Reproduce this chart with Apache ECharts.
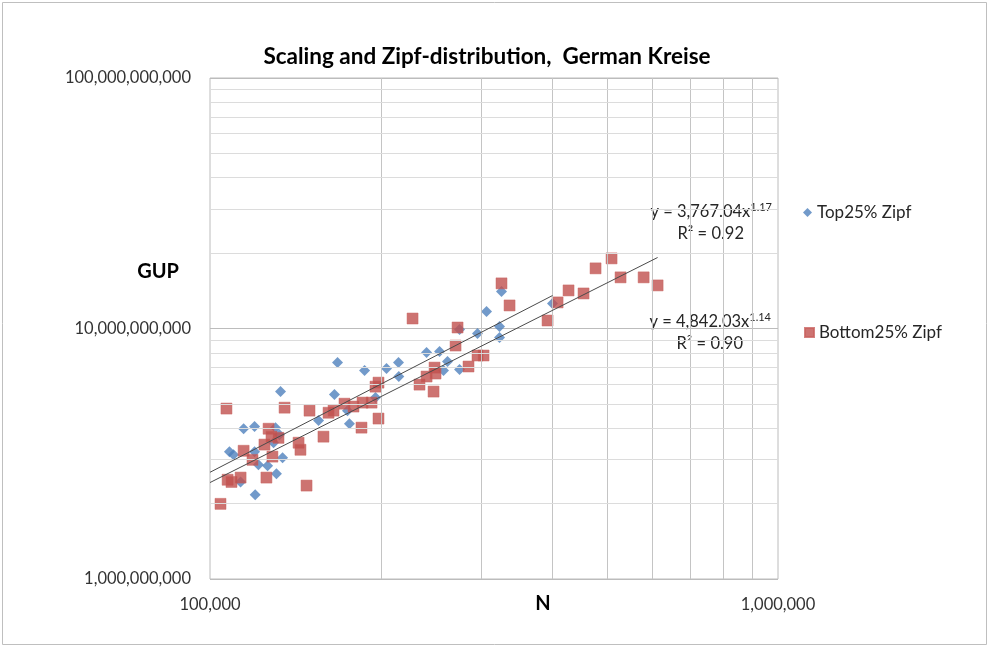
<!DOCTYPE html>
<html><head><meta charset="utf-8">
<script src="https://cdn.jsdelivr.net/npm/echarts@6/dist/echarts.min.js"></script>
<style>html,body{margin:0;padding:0;background:#fff}#c{width:990px;height:648px}</style>
</head><body><div id="c"></div>
<script>
// ---- data (N = population, GUP = gross urban product) ----
const topName = 'Top25% Zipf';
const botName = 'Bottom25% Zipf';
const topX = [108200,110000,113200,114600,119800,119800,120100,121700,126300,130900,130400,132500,133100,134200,129400,155300,165600,167700,174600,176000,187100,195600,204500,214700,215000,240600,253600,261900,257700,275000,275000,295800,306800,323400,323400,326000,400900];
const topY = [3.22e9,3.13e9,2.44e9,3.98e9,4.06e9,3.22e9,2.17e9,2.86e9,2.83e9,2.63e9,4.02e9,3.77e9,5.60e9,3.05e9,3.50e9,4.29e9,5.45e9,7.31e9,4.70e9,4.17e9,6.79e9,5.30e9,6.92e9,7.31e9,6.43e9,8.02e9,8.09e9,7.38e9,6.79e9,6.86e9,9.91e9,9.55e9,11.69e9,10.19e9,9.20e9,14.06e9,12.59e9];
const botX = [104350,106900,107400,109100,113200,114600,118800,124700,125700,126800,128300,132000,128800,135300,143200,144300,147900,149700,158400,161700,165000,172500,178900,184800,185600,192500,195600,198000,198000,227300,233800,240600,248500,249500,247500,270600,272800,285200,295800,303100,326000,336800,392900,409200,427800,454600,477300,509300,528200,580000,613800];
const botY = [1.995e9,4.79e9,2.49e9,2.44e9,2.54e9,3.25e9,2.99e9,3.44e9,2.54e9,3.98e9,3.70e9,3.66e9,3.08e9,4.83e9,3.50e9,3.28e9,2.36e9,4.70e9,3.70e9,4.61e9,4.70e9,5.01e9,4.88e9,4.02e9,5.06e9,5.06e9,5.86e9,6.08e9,4.37e9,10.96e9,5.97e9,6.43e9,6.98e9,6.61e9,5.60e9,8.55e9,10.09e9,7.05e9,7.80e9,7.80e9,15.14e9,12.36e9,10.76e9,12.71e9,14.19e9,13.80e9,17.38e9,19.05e9,16.00e9,16.00e9,14.86e9];
// power trendlines y = a * x^b  (coefficients as printed on the chart)
const trendTop = [3767.04, 1.17];
const trendBot = [4842.03, 1.14];
const trendTopLabel = ['y = 3,767.04x', '1.17', 'R² = 0.92'];
const trendBotLabel = ['y = 4,842.03x', '1.14', 'R² = 0.90'];
// axis ticks
const xRange = [100000, 1000000];
const yRange = [1e9, 1e11];
const xMinorTicks = [200000,300000,400000,500000,600000,700000,800000,900000];
const yMinorTicks = [2e9,3e9,4e9,5e9,6e9,7e9,8e9,9e9,2e10,3e10,4e10,5e10,6e10,7e10,8e10,9e10];
const titleText = 'Scaling and Zipf-distribution,  German Kreise';
const xName = 'N';
const yName = 'GUP';

const FONT = 'Lato, "Open Sans", sans-serif';
const TXT = '#333333';
const pairs = (xs, ys) => xs.map((x, i) => [x, ys[i]]);
const trend = (c, xs) => {
  const x0 = xRange[0], x1 = Math.max(...xs);
  return [[x0, c[0] * Math.pow(x0, c[1])], [x1, c[0] * Math.pow(x1, c[1])]];
};
const fmt = v => Math.round(v).toLocaleString('en-US');
const eqRich = {
  a: {fontFamily: FONT, fontSize: 16.5, fill: '#262626', lineHeight: 20},
  s: {fontFamily: FONT, fontSize: 11, fill: '#262626', verticalAlign: 'top', lineHeight: 20}
};

const chart = echarts.init(document.getElementById('c'), null, {renderer: 'canvas'});
const option = {
  backgroundColor: '#fff',
  animation: false,
  title: {
    text: titleText, left: 482, top: 40, textAlign: 'center',
    textStyle: {fontFamily: FONT, fontSize: 22.5, fontWeight: 'bold', color: '#000'}
  },
  grid: {left: 210, top: 78, width: 568, height: 501, show: true, borderColor: '#bcbcbc', borderWidth: 1, backgroundColor: 'transparent'},
  legend: [
    {data: [topName], left: 798, top: 199, orient: 'vertical', itemWidth: 9, itemHeight: 9, itemGap: 0,
     textStyle: {fontFamily: FONT, fontSize: 17, color: '#262626'}},
    {data: [botName], left: 799, top: 319, orient: 'vertical', itemWidth: 9, itemHeight: 9, itemGap: 0,
     textStyle: {fontFamily: FONT, fontSize: 17, color: '#262626'}}
  ],
  xAxis: {
    type: 'log', logBase: 10, min: xRange[0], max: xRange[1],
    axisLine: {show: false}, axisTick: {show: false},
    splitLine: {show: false},
    axisLabel: {formatter: fmt, margin: 17, fontFamily: FONT, fontSize: 16.5, color: TXT}
  },
  yAxis: {
    type: 'log', logBase: 10, min: yRange[0], max: yRange[1],
    axisLine: {show: false}, axisTick: {show: false},
    splitLine: {show: true, lineStyle: {color: '#bcbcbc', width: 1}},
    axisLabel: {formatter: fmt, margin: 19, fontFamily: FONT, fontSize: 16.5, color: TXT}
  },
  graphic: [
    {type: 'rect', shape: {x: 2.5, y: 2.5, width: 984, height: 642}, style: {fill: 'none', stroke: '#bfbfbf', lineWidth: 1}, silent: true},
    {type: 'text', x: 158, y: 272, style: {text: yName, fontFamily: FONT, fontSize: 20, fontWeight: 'bold', fill: '#000', align: 'center', verticalAlign: 'middle'}},
    {type: 'text', x: 543, y: 604, style: {text: xName, fontFamily: FONT, fontSize: 20, fontWeight: 'bold', fill: '#000', align: 'center', verticalAlign: 'middle'}},
    {type: 'text', x: 772, y: 212, style: {text: '{a|' + trendTopLabel[0] + '}{s|' + trendTopLabel[1] + '}', align: 'right', verticalAlign: 'middle', rich: eqRich}},
    {type: 'text', x: 744, y: 234, style: {text: trendTopLabel[2], fontFamily: FONT, fontSize: 16.5, fill: '#262626', align: 'right', verticalAlign: 'middle'}},
    {type: 'text', x: 771, y: 322, style: {text: '{a|' + trendBotLabel[0] + '}{s|' + trendBotLabel[1] + '}', align: 'right', verticalAlign: 'middle', rich: eqRich}},
    {type: 'text', x: 743, y: 344, style: {text: trendBotLabel[2], fontFamily: FONT, fontSize: 16.5, fill: '#262626', align: 'right', verticalAlign: 'middle'}}
  ],
  series: [
    {
      name: 'gridlines', type: 'line', data: [], z: 1, silent: true,
      markLine: {
        silent: true, symbol: ['none', 'none'], label: {show: false}, animation: false,
        emphasis: {disabled: true},
        data: xMinorTicks.map(v => ({xAxis: v, lineStyle: {color: '#c4c4c4', width: 1, type: 'solid'}}))
          .concat(yMinorTicks.map(v => ({yAxis: v, lineStyle: {color: '#dcdcdc', width: 1, type: 'solid'}})))
      }
    },
    {
      name: topName, type: 'scatter', data: pairs(topX, topY), symbol: 'diamond', symbolSize: 11, z: 3,
      itemStyle: {color: '#4F81BD'}
    },
    {
      name: botName, type: 'scatter', data: pairs(botX, botY), symbol: 'rect', symbolSize: 11, z: 4,
      itemStyle: {color: '#C0504D', borderColor: '#c9625f', borderWidth: 0.6}
    },
    {
      name: 'trendTop', type: 'line', data: trend(trendTop, topX), showSymbol: false, symbol: 'none', z: 5, silent: true,
      lineStyle: {color: '#4a4a4a', width: 1}
    },
    {
      name: 'trendBot', type: 'line', data: trend(trendBot, botX), showSymbol: false, symbol: 'none', z: 5, silent: true,
      lineStyle: {color: '#4a4a4a', width: 1}
    }
  ]
};
chart.setOption(option);
</script>
</body></html>
